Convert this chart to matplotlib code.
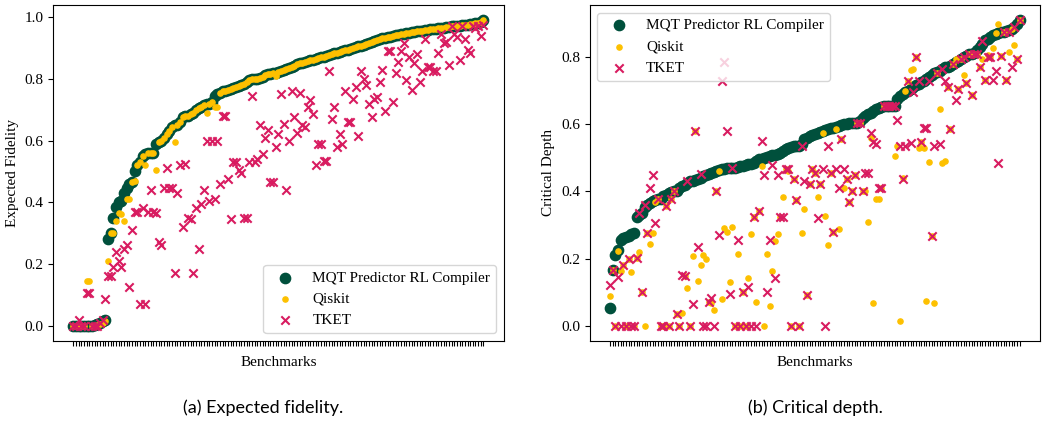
import numpy as np
import matplotlib
matplotlib.use("Agg")
import matplotlib.pyplot as plt

plt.rcParams['font.family'] = ['Liberation Serif', 'DejaVu Serif']

# ---------------- data: (a) expected fidelity ----------------
fid_mqt = [
    0, 0, 0, 0, 0, 0, 0, 0, 0.003, 0.005,
    0.01, 0.015, 0.02, 0.28, 0.30, 0.35, 0.385, 0.40, 0.405, 0.43,
    0.445, 0.46, 0.465, 0.50, 0.52, 0.53, 0.55, 0.555, 0.56, 0.56,
    0.56, 0.59, 0.595, 0.60, 0.61, 0.62, 0.63, 0.645, 0.65, 0.65,
    0.66, 0.675, 0.68, 0.68, 0.685, 0.69, 0.70, 0.705, 0.71, 0.715,
    0.72, 0.72, 0.725, 0.745, 0.75, 0.755, 0.76, 0.762, 0.765, 0.768,
    0.77, 0.773, 0.776, 0.78, 0.785, 0.79, 0.795, 0.80, 0.80, 0.80,
    0.803, 0.807, 0.812, 0.815, 0.817, 0.818, 0.82, 0.822, 0.825, 0.828,
    0.832, 0.835, 0.84, 0.843, 0.847, 0.85, 0.852, 0.855, 0.857, 0.86,
    0.862, 0.865, 0.867, 0.87, 0.872, 0.875, 0.878, 0.88, 0.883, 0.885,
    0.887, 0.89, 0.892, 0.895, 0.897, 0.90, 0.902, 0.905, 0.908, 0.91,
    0.913, 0.916, 0.919, 0.922, 0.925, 0.928, 0.931, 0.933, 0.935, 0.937,
    0.939, 0.941, 0.943, 0.945, 0.947, 0.949, 0.95, 0.952, 0.953, 0.954,
    0.955, 0.956, 0.958, 0.96, 0.961, 0.962, 0.963, 0.964, 0.965, 0.966,
    0.967, 0.968, 0.97, 0.971, 0.972, 0.973, 0.974, 0.975, 0.976, 0.977,
    0.978, 0.98, 0.982, 0.985, 0.99,
]
fid_qiskit = [
    0, 0, 0, 0, 0, 0.146, 0.146, 0, 0, 0.003,
    0.005, 0.01, 0.015, 0.21, 0.30, 0.30, 0.338, 0.365, 0.362, 0.338,
    0.41, 0.41, 0.465, 0.47, 0.52, 0.53, 0.55, 0.52, 0.56, 0.56,
    0.56, 0.505, 0.595, 0.60, 0.61, 0.62, 0.63, 0.645, 0.595, 0.65,
    0.66, 0.675, 0.68, 0.68, 0.685, 0.69, 0.70, 0.705, 0.71, 0.715,
    0.69, 0.72, 0.725, 0.71, 0.71, 0.755, 0.76, 0.762, 0.765, 0.768,
    0.77, 0.773, 0.776, 0.78, 0.785, 0.79, 0.795, 0.80, 0.80, 0.80,
    0.803, 0.807, 0.812, 0.815, 0.817, 0.818, 0.81, 0.822, 0.825, 0.828,
    0.832, 0.835, 0.84, 0.843, 0.847, 0.85, 0.852, 0.855, 0.857, 0.86,
    0.862, 0.865, 0.867, 0.87, 0.872, 0.875, 0.878, 0.88, 0.883, 0.885,
    0.887, 0.89, 0.892, 0.895, 0.897, 0.90, 0.902, 0.905, 0.908, 0.91,
    0.913, 0.916, 0.919, 0.922, 0.925, 0.928, 0.931, 0.933, 0.935, 0.937,
    0.939, 0.941, 0.943, 0.945, 0.947, 0.949, 0.95, 0.952, 0.953, 0.954,
    0.955, 0.956, 0.958, 0.96, 0.961, 0.962, 0.963, 0.964, 0.965, 0.966,
    0.967, 0.968, 0.97, 0.971, 0.972, 0.973, 0.974, 0.975, 0.976, 0.977,
    0.978, 0.98, 0.982, 0.985, 0.99,
]
fid_tket = [
    0.0, 0.0, 0.02, 0.0, 0.0, 0.105, 0.105, 0.0, 0.0, 0.0,
    0.01, 0.02, 0.088, 0.16, 0.16, 0.19, 0.24, 0.21, 0.19, 0.25,
    0.26, 0.125, 0.31, 0.37, 0.37, 0.07, 0.38, 0.07, 0.37, 0.44,
    0.37, 0.365, 0.27, 0.26, 0.445, 0.51, 0.445, 0.445, 0.17, 0.43,
    0.52, 0.32, 0.525, 0.35, 0.345, 0.17, 0.38, 0.25, 0.395, 0.44,
    0.60, 0.405, 0.60, 0.41, 0.60, 0.46, 0.68, 0.68, 0.475, 0.345,
    0.53, 0.53, 0.505, 0.495, 0.35, 0.35, 0.53, 0.745, 0.53, 0.54,
    0.65, 0.555, 0.61, 0.635, 0.465, 0.465, 0.58, 0.62, 0.75, 0.655,
    0.44, 0.60, 0.76, 0.675, 0.625, 0.755, 0.65, 0.645, 0.71, 0.73,
    0.685, 0.52, 0.59, 0.59, 0.535, 0.535, 0.825, 0.67, 0.71, 0.58,
    0.62, 0.59, 0.76, 0.66, 0.66, 0.735, 0.775, 0.615, 0.825, 0.80,
    0.78, 0.72, 0.675, 0.735, 0.74, 0.79, 0.83, 0.695, 0.89, 0.89,
    0.725, 0.82, 0.855, 0.89, 0.915, 0.795, 0.87, 0.765, 0.85, 0.88,
    0.79, 0.825, 0.93, 0.84, 0.84, 0.825, 0.825, 0.885, 0.945, 0.915,
    0.92, 0.845, 0.97, 0.945, 0.935, 0.86, 0.97, 0.93, 0.895, 0.885,
    0.97, 0.965, 0.97, 0.94, 0.975,
]

# ---------------- data: (b) critical depth ----------------
cd_mqt = [
    0.054, 0.166, 0.21, 0.225, 0.255, 0.262, 0.265, 0.267, 0.272, 0.277,
    0.325, 0.33, 0.337, 0.355, 0.36, 0.367, 0.372, 0.375, 0.377, 0.377,
    0.385, 0.39, 0.395, 0.397, 0.40, 0.40, 0.41, 0.415, 0.42, 0.425,
    0.43, 0.43, 0.435, 0.438, 0.44, 0.445, 0.45, 0.453, 0.455, 0.458,
    0.461, 0.463, 0.466, 0.468, 0.47, 0.47, 0.471, 0.471, 0.473, 0.475,
    0.477, 0.48, 0.481, 0.483, 0.486, 0.49, 0.496, 0.498, 0.50, 0.503,
    0.506, 0.508, 0.51, 0.512, 0.515, 0.52, 0.525, 0.53, 0.532, 0.534,
    0.534, 0.536, 0.54, 0.555, 0.56, 0.565, 0.568, 0.572, 0.575, 0.578,
    0.58, 0.583, 0.585, 0.588, 0.59, 0.592, 0.595, 0.597, 0.60, 0.60,
    0.603, 0.603, 0.603, 0.603, 0.61, 0.618, 0.625, 0.63, 0.635, 0.64,
    0.645, 0.65, 0.652, 0.655, 0.655, 0.655, 0.655, 0.655, 0.675, 0.683,
    0.69, 0.695, 0.70, 0.705, 0.712, 0.717, 0.72, 0.725, 0.73, 0.735,
    0.74, 0.748, 0.752, 0.755, 0.76, 0.765, 0.77, 0.772, 0.775, 0.78,
    0.785, 0.79, 0.795, 0.80, 0.805, 0.81, 0.81, 0.812, 0.82, 0.83,
    0.84, 0.85, 0.855, 0.86, 0.865, 0.87, 0.872, 0.874, 0.876, 0.878,
    0.88, 0.885, 0.89, 0.90, 0.91,
]
cd_qiskit = [
    0.088, 0.166, 0.0, 0.222, 0.163, 0.18, 0.0, 0.20, 0.161, 0.0,
    0.203, 0.22, 0.10, 0.0, 0.277, 0.242, 0.277, 0.37, 0.377, 0.0,
    0.0, 0.357, 0.0, 0.377, 0.40, 0.036, 0.0, 0.039, 0.148, 0.113,
    0.0, 0.208, 0.58, 0.133, 0.18, 0.21, 0.198, 0.07, 0.067, 0.047,
    0.40, 0.461, 0.08, 0.29, 0.28, 0.13, 0.294, 0.0, 0.213, 0.0,
    0.10, 0.0, 0.143, 0.272, 0.325, 0.07, 0.342, 0.476, 0.0, 0.213,
    0.06, 0.163, 0.252, 0.272, 0.325, 0.382, 0.466, 0.461, 0.0, 0.436,
    0.375, 0.0, 0.277, 0.349, 0.09, 0.423, 0.466, 0.456, 0.382, 0.423,
    0.573, 0.327, 0.24, 0.456, 0.28, 0.587, 0.289, 0.555, 0.411, 0.436,
    0.369, 0.40, 0.45, 0.603, 0.603, 0.40, 0.40, 0.309, 0.56, 0.067,
    0.377, 0.377, 0.41, 0.655, 0.655, 0.655, 0.655, 0.506, 0.536, 0.014,
    0.44, 0.70, 0.73, 0.761, 0.766, 0.80, 0.528, 0.546, 0.528, 0.074,
    0.489, 0.267, 0.067, 0.754, 0.647, 0.486, 0.491, 0.71, 0.585, 0.78,
    0.796, 0.705, 0.795, 0.747, 0.724, 0.81, 0.687, 0.81, 0.81, 0.77,
    0.796, 0.732, 0.806, 0.80, 0.826, 0.871, 0.898, 0.804, 0.874, 0.732,
    0.814, 0.885, 0.836, 0.796, 0.91,
]
cd_tket = [
    0.12, 0.166, 0.0, 0.146, 0.0, 0.18, 0.0, 0.20, 0.0, 0.0,
    0.203, 0.337, 0.10, 0.36, 0.277, 0.41, 0.45, 0.307, 0.377, 0.0,
    0.0, 0.357, 0.0, 0.377, 0.40, 0.036, 0.0, 0.15, 0.148, 0.43,
    0.0, 0.064, 0.58, 0.235, 0.453, 0.0, 0.0, 0.07, 0.083, 0.0,
    0.40, 0.27, 0.73, 0.786, 0.58, 0.093, 0.471, 0.0, 0.255, 0.0,
    0.10, 0.0, 0.115, 0.0, 0.325, 0.0, 0.342, 0.55, 0.45, 0.10,
    0.255, 0.48, 0.143, 0.45, 0.325, 0.325, 0.466, 0.466, 0.0, 0.436,
    0.375, 0.0, 0.534, 0.43, 0.09, 0.423, 0.466, 0.456, 0.32, 0.423,
    0.466, 0.0, 0.536, 0.456, 0.28, 0.466, 0.41, 0.555, 0.466, 0.436,
    0.369, 0.40, 0.45, 0.603, 0.603, 0.40, 0.456, 0.456, 0.575, 0.546,
    0.54, 0.41, 0.41, 0.655, 0.655, 0.655, 0.655, 0.655, 0.612, 0.536,
    0.436, 0.536, 0.73, 0.543, 0.695, 0.80, 0.73, 0.546, 0.59, 0.59,
    0.73, 0.267, 0.536, 0.754, 0.54, 0.765, 0.73, 0.71, 0.585, 0.78,
    0.673, 0.705, 0.795, 0.80, 0.724, 0.81, 0.687, 0.81, 0.81, 0.77,
    0.847, 0.732, 0.80, 0.80, 0.732, 0.76, 0.486, 0.804, 0.874, 0.732,
    0.874, 0.772, 0.89, 0.796, 0.91,
]

series_labels = ["MQT Predictor RL Compiler", "Qiskit", "TKET"]
GREEN = "#00503C"
YELLOW = "#FDC000"
CRIMSON = "#D81B60"

for arr in (fid_mqt, fid_qiskit, fid_tket, cd_mqt, cd_qiskit, cd_tket):
    assert len(arr) == 155, len(arr)

fig = plt.figure(figsize=(10.43, 4.23), dpi=100)
ax1 = fig.add_axes([0.0508, 0.1939, 0.4324, 0.7943])
ax2 = fig.add_axes([0.5654, 0.1939, 0.4317, 0.7943])

panels = [
    (ax1, fid_mqt, fid_qiskit, fid_tket, "Expected Fidelity", "lower right"),
    (ax2, cd_mqt, cd_qiskit, cd_tket, "Critical Depth", "upper left"),
]
FS = 11
for ax, mqt, qis, tk, ylab, loc in panels:
    x = np.arange(len(mqt))
    ax.scatter(x, mqt, s=55, color=GREEN, label=series_labels[0])
    ax.scatter(x, qis, s=14, color=YELLOW, label=series_labels[1])
    ax.scatter(x, tk, s=36, marker="x", color=CRIMSON, linewidths=1.5,
               label=series_labels[2])
    ax.set_xticks(x)
    ax.set_xticklabels([""] * len(x))
    ax.set_ylabel(ylab, fontsize=FS)
    ax.set_xlabel("Benchmarks", fontsize=FS)
    ax.tick_params(axis="y", labelsize=FS)
    ax.legend(loc=loc, fontsize=FS)

fig.text(263 / 1043, 1 - 408 / 423, "(a) Expected fidelity.", ha="center",
         va="center", fontsize=13, family=["Lato", "DejaVu Sans"])
fig.text(815 / 1043, 1 - 408 / 423, "(b) Critical depth.", ha="center",
         va="center", fontsize=13, family=["Lato", "DejaVu Sans"])

fig.savefig("out.png", dpi=100)
